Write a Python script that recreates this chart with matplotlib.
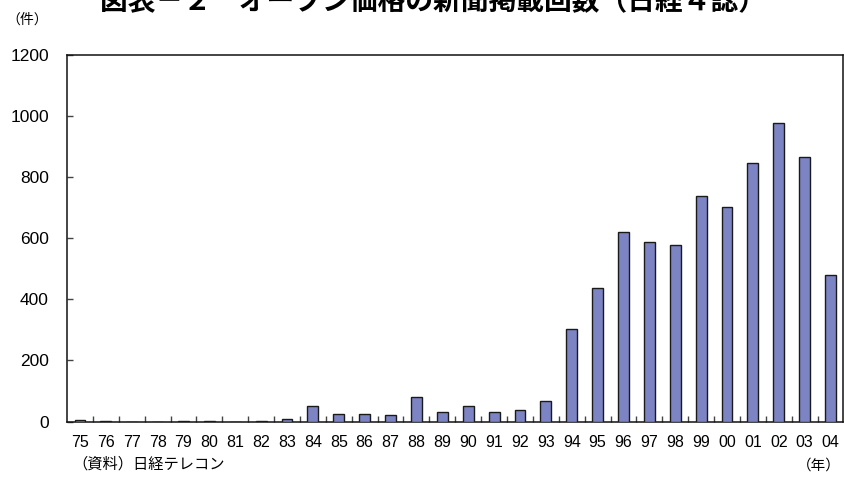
import numpy as np
import matplotlib
matplotlib.use('Agg')
from matplotlib import pyplot as plt

plt.rcParams['font.family'] = ['Liberation Sans', 'Noto Sans CJK JP']

# data (articles per year)
years = ['75', '76', '77', '78', '79', '80', '81', '82', '83', '84',
         '85', '86', '87', '88', '89', '90', '91', '92', '93', '94',
         '95', '96', '97', '98', '99', '00', '01', '02', '03', '04']
counts = [6, 1, 0, 0, 2, 2, 0, 3, 9, 51,
          25, 25, 20, 81, 32, 50, 32, 37, 67, 304,
          436, 620, 588, 579, 737, 703, 847, 977, 867, 479]

title = '図表－２　オープン価格の新聞掲載回数（日経４誌）'
yticks = [0, 200, 400, 600, 800, 1000, 1200]

BAR_COLOR = '#7d84c4'

fig = plt.figure(figsize=(8.45, 4.79), dpi=100)
ax = fig.add_axes([67/845, 1-421.5/479, (843.5-67)/845, (421.5-55)/479])

x = np.arange(len(years))
ax.bar(x, counts, width=0.42, color=BAR_COLOR, edgecolor='#1a1a1a', linewidth=1.0, zorder=3)

ax.set_xlim(-0.5, len(years)-0.5)
ax.set_ylim(0, 1200)
ax.set_yticks(yticks)
ax.set_yticklabels([str(v) for v in yticks], fontsize=12.5)
ax.set_xticks(x)
ax.set_xticklabels(years, fontsize=11.5)
ax.set_xticks(x[:-1]+0.5, minor=True)
ax.tick_params(axis='x', which='major', length=0, pad=10)
ax.tick_params(axis='x', which='minor', direction='in', length=4, width=1.0, color='#444444')
ax.tick_params(axis='y', direction='in', length=4, width=1.0, pad=13, color='#444444')
for s in ax.spines.values():
    s.set_linewidth(1.1)
    s.set_color('#111111')

# title is clipped at the top edge, as in the source image
fig.text(0.512, 1-15/479, title, ha='center', va='bottom', fontsize=20, fontweight='bold',
         family=['Noto Sans CJK JP'])
fig.text(6/845, 1-20/479, '（件）', ha='left', va='center', fontsize=10,
         family=['Noto Sans CJK JP'])
fig.text(72/845, 1-464/479, '（資料）日経テレコン', ha='left', va='center', fontsize=11,
         family=['Noto Sans CJK JP'])
fig.text(841/845, 1-466/479, '（年）', ha='right', va='center', fontsize=10.5,
         family=['Noto Sans CJK JP'])

fig.savefig('out.png', dpi=100)
